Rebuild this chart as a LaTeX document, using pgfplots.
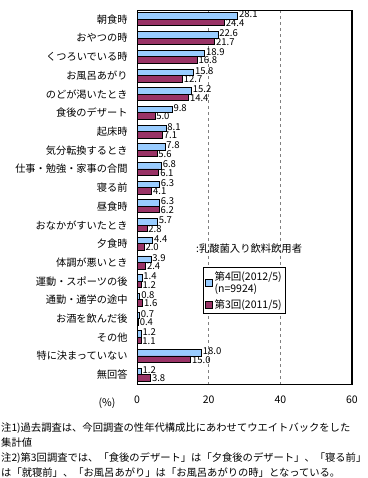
\documentclass[border=0pt]{standalone}
\usepackage{fontspec}
\setmainfont{Noto Sans CJK JP}
\usepackage{pgfplots}
\pgfplotsset{compat=1.18}
\definecolor{cfour}{RGB}{153,204,255}
\definecolor{cthree}{RGB}{153,51,102}
\begin{document}
\fontsize{10}{12}\selectfont
\begin{tikzpicture}
\useasboundingbox (0,0) rectangle (367pt,-478pt);
\begin{axis}[
  at={(137pt,-10pt)}, anchor=north west,
  width=215pt, height=374pt, scale only axis,
  xbar, xmin=0, xmax=60, ymin=-0.5, ymax=19.5, y dir=reverse,
  /pgf/number format/assume math mode=true,
  ytick={0,...,19},
  yticklabels={朝食時,おやつの時,くつろいでいる時,お風呂あがり,のどが渇いたとき,食後のデザート,起床時,気分転換するとき,仕事・勉強・家事の合間,寝る前,昼食時,おなかがすいたとき,夕食時,体調が悪いとき,運動・スポーツの後,通勤・通学の途中,お酒を飲んだ後,その他,特に決まっていない,無回答},
  xtick={0,20,40,60},
  major tick length=0pt,
  yticklabel style={font=\fontsize{10.2}{12}\selectfont, xshift=-6pt},
  xticklabel style={font=\fontsize{10.5}{12}\selectfont, yshift=-8pt},
  xmajorgrids, grid style={gray, dashed, line width=0.6pt},
  axis line style={line width=1pt},
  bar width=6.5pt,
  point meta=x,
  nodes near coords={\pgfmathprintnumber[fixed,fixed zerofill,precision=1]{\pgfplotspointmeta}},
  every node near coord/.append style={font=\fontsize{9.5}{10}\selectfont, inner sep=1pt, anchor=west},
  legend cell align=left,
  legend style={at={(axis description cs:0.305,0.313)}, anchor=north west, draw=black, line width=0.8pt,
     font=\fontsize{10.5}{12.5}\selectfont, cells={align=left}, row sep=1pt, inner sep=2pt},
  legend image code/.code={\draw[#1, line width=0.6pt] (0pt,-3.5pt) rectangle (7pt,3.5pt);},
]
\addplot[fill=cfour, draw=black, line width=0.8pt, bar shift=3.25pt,
  every node near coord/.append style={yshift=1.5pt}] coordinates {
(28.1,0) (22.6,1) (18.9,2) (15.8,3) (15.2,4) (9.8,5) (8.1,6) (7.8,7) (6.8,8) (6.3,9)
(6.3,10) (5.7,11) (4.4,12) (3.9,13) (1.4,14) (0.8,15) (0.7,16) (1.2,17) (18.0,18) (1.2,19)};
\addlegendentry{{第4回(2012/5)\\(n=9924)}}
\addplot[fill=cthree, draw=black, line width=0.8pt, bar shift=-3.25pt,
  every node near coord/.append style={yshift=-0.5pt}] coordinates {
(24.4,0) (21.7,1) (16.8,2) (12.7,3) (14.4,4) (5.0,5) (7.1,6) (5.6,7) (6.1,8) (4.1,9)
(6.2,10) (2.8,11) (2.0,12) (2.4,13) (1.2,14) (1.6,15) (0.4,16) (1.1,17) (15.0,18) (3.8,19)};
\addlegendentry{第3回(2011/5)}
\end{axis}
\node[anchor=west, inner sep=0pt] at (196pt,-249pt) {\fontsize{10.3}{12}\selectfont :乳酸菌入り飲料飲用者};
\node[inner sep=0pt] at (107pt,-403pt) {\fontsize{10.5}{12}\selectfont (\%)};
\node[anchor=west, inner sep=0pt] at (1pt,-428pt) {\fontsize{10.3}{12}\selectfont 注1)過去調査は、今回調査の性年代構成比にあわせてウエイトバックをした};
\node[anchor=west, inner sep=0pt] at (1pt,-443pt) {\fontsize{10.3}{12}\selectfont 集計値};
\node[anchor=west, inner sep=0pt] at (1pt,-458pt) {\fontsize{10.3}{12}\selectfont 注2)第3回調査では、「食後のデザート」は「夕食後のデザート」、「寝る前」};
\node[anchor=west, inner sep=0pt] at (1pt,-473pt) {\fontsize{10.3}{12}\selectfont は「就寝前」、「お風呂あがり」は「お風呂あがりの時」となっている。};
\end{tikzpicture}
\end{document}
